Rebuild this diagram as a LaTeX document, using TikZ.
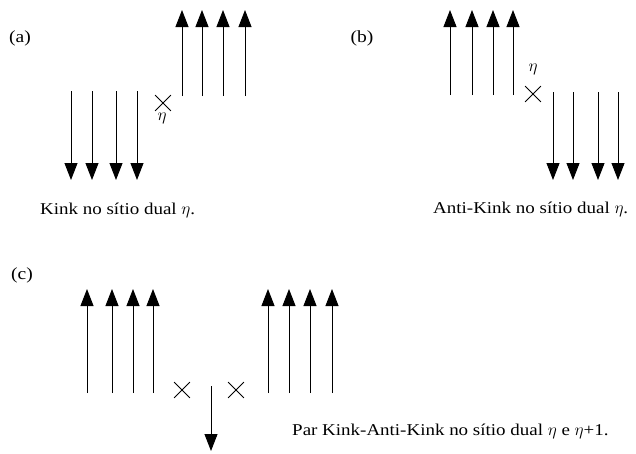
\documentclass[tikz,border=0pt]{standalone}
\usepackage{fontspec}
\setmainfont{Liberation Serif}
\newfontfamily\capfont[FakeStretch=1.15]{Liberation Serif}
\usetikzlibrary{arrows.meta,shapes.misc}
\begin{document}
\begin{tikzpicture}[x=1pt,y=-1pt,
  spin/.style={line width=0.9pt,-{Triangle[length=17pt,width=13pt]}},
  xmark/.style={cross out,draw,line width=0.8pt,minimum size=15pt,inner sep=0pt},
  lbl/.style={font=\capfont\fontsize{17}{20}\selectfont,inner sep=0pt},
  etalbl/.style={font=\capfont\fontsize{19}{22}\selectfont,inner sep=0pt},
  captxt/.style={font=\capfont\fontsize{16.5}{20}\selectfont,inner sep=0pt,anchor=west}]
\useasboundingbox (0,0) rectangle (636,453);
% (a)
\node[lbl] (la) at (20,38) {(a)};
\foreach \x in {71,92,116,137} \draw[spin] (\x,91) -- (\x,180);
\foreach \x in {182,202,223,245} \draw[spin] (\x,96) -- (\x,10);
\node[xmark] (xa) at (163,103) {};
\node[etalbl] (ea) at (162,118) {$\eta$};
\node[captxt] (ca) at (40,210) {Kink no sítio dual $\eta$.};
% (b)
\node[lbl] (lb) at (362,38) {(b)};
\foreach \x in {450,472,493,513} \draw[spin] (\x,95) -- (\x,10);
\foreach \x in {553,573,598,618} \draw[spin] (\x,92) -- (\x,180);
\node[xmark] (xb) at (533,94) {};
\node[etalbl] (eb) at (533,69) {$\eta$};
\node[captxt] (cb) at (433,209) {Anti-Kink no sítio dual $\eta$.};
% (c)
\node[lbl] (lc) at (22,275) {(c)};
\foreach \x in {87,112,133,153} \draw[spin] (\x,393) -- (\x,289);
\foreach \x in {268,289,310,332} \draw[spin] (\x,393) -- (\x,289);
\draw[spin] (211,386) -- (211,451);
\node[xmark] (xc1) at (182,390) {};
\node[xmark] (xc2) at (236,390) {};
\node[captxt] (cc) at (292,431) {Par Kink-Anti-Kink no sítio dual $\eta$ e $\eta$+1.};
\end{tikzpicture}
\end{document}
